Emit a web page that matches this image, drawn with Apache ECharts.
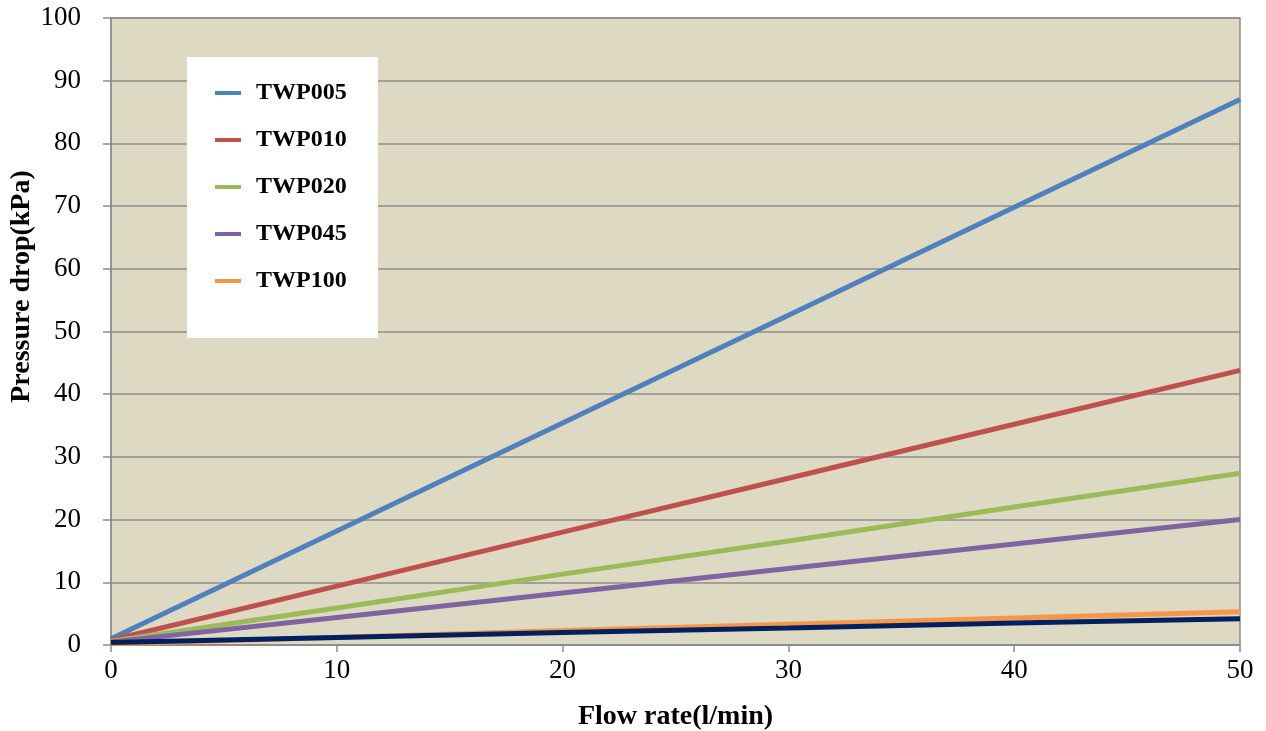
<!DOCTYPE html>
<html>
<head>
<meta charset="utf-8">
<script src="https://cdn.jsdelivr.net/npm/echarts@6/dist/echarts.min.js"></script>
<style>html,body{margin:0;padding:0;background:#fff}#c{width:1266px;height:731px}</style>
</head>
<body>
<div id="c"></div>
<script>
const flowRates = [0, 10, 20, 30, 40, 50];
const twp005 = [1.0, 18.2, 35.4, 52.6, 69.8, 87.0];
const twp010 = [0.8, 9.4, 18.0, 26.6, 35.2, 43.8];
const twp020 = [0.6, 5.9, 11.3, 16.6, 22.0, 27.4];
const twp045 = [0.5, 4.4, 8.3, 12.2, 16.1, 20.0];
const twp100 = [0.2, 1.2, 2.3, 3.3, 4.3, 5.3];
const extraLine = [0.4, 1.2, 2.0, 2.7, 3.5, 4.2];
const seriesNames = ['TWP005', 'TWP010', 'TWP020', 'TWP045', 'TWP100'];

function pts(arr){ return flowRates.map((x,i)=>[x, arr[i]]); }
const colors = ['#4f81bd', '#c0504d', '#9bbb59', '#8064a2', '#f79646'];
const datasets = [twp005, twp010, twp020, twp045, twp100];

const chart = echarts.init(document.getElementById('c'));
const serif = '"Liberation Serif","Times New Roman",serif';
const series = datasets.map((d,i)=>({
  name: seriesNames[i], type: 'line', data: pts(d), showSymbol: false, symbol: 'none',
  lineStyle: {color: colors[i], width: 5}, itemStyle: {color: colors[i]}, z: 2
}));
series.push({name: 'base', type: 'line', data: pts(extraLine), showSymbol: false, symbol: 'none',
  lineStyle: {color: '#002060', width: 5}, itemStyle: {color: '#002060'}, z: 3});

chart.setOption({
  animation: false,
  grid: {left: 111, top: 18, right: 26, bottom: 86, show: true, backgroundColor: '#ddd9c3',
    borderColor: '#8c8c8c', borderWidth: 1.5, containLabel: false, outerBoundsMode: 'none'},
  graphic: [{type: 'rect', shape: {x: 187, y: 57, width: 191, height: 281}, style: {fill: '#ffffff'}, z: 5}],
  legend: {
    data: seriesNames, orient: 'vertical', left: 210, top: 76, itemWidth: 26, itemHeight: 4,
    itemGap: 23, icon: 'rect', z: 10,
    textStyle: {fontFamily: serif, fontWeight: 'bold', fontSize: 24, color: '#000', padding: [0,0,0,10]}
  },
  xAxis: {
    type: 'value', min: 0, max: 50, interval: 10,
    name: 'Flow rate(l/min)', nameLocation: 'middle', nameGap: 58,
    nameTextStyle: {fontFamily: serif, fontWeight: 'bold', fontSize: 28, color: '#000'},
    axisLine: {lineStyle: {color: '#8c8c8c', width: 1.5}},
    axisTick: {show: true, length: 7, lineStyle: {color: '#8c8c8c', width: 1.5}},
    axisLabel: {fontFamily: serif, fontSize: 27, color: '#000', margin: 12},
    splitLine: {show: false}
  },
  yAxis: {
    type: 'value', min: 0, max: 100, interval: 10,
    name: 'Pressure drop(kPa)', nameLocation: 'middle', nameGap: 75, nameRotate: 90,
    nameMoveOverlap: false,
    nameTextStyle: {fontFamily: serif, fontWeight: 'bold', fontSize: 28, color: '#000', padding: [0,0,0,90]},
    axisLine: {show: true, lineStyle: {color: '#8c8c8c', width: 1.5}},
    axisTick: {show: true, length: 8, lineStyle: {color: '#8c8c8c', width: 1.5}},
    axisLabel: {fontFamily: serif, fontSize: 27, color: '#000', margin: 30},
    splitLine: {show: true, lineStyle: {color: '#8c8c8c', width: 1.5}}
  },
  series: series
});
</script>
</body>
</html>
